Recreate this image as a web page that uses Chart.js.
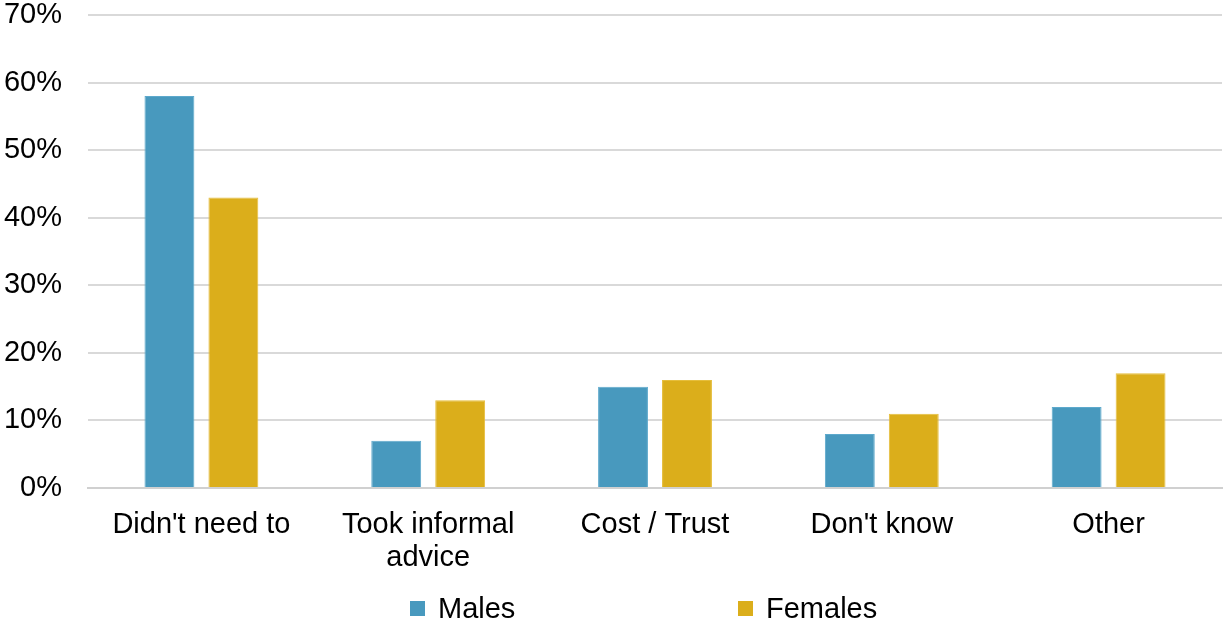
<!DOCTYPE html>
<html>
<head>
<meta charset="utf-8">
<script src="https://cdn.jsdelivr.net/npm/chart.js@4"></script>
<style>
  body { margin: 0; background: #fff; }
  #wrap { position: relative; width: 1225px; height: 623px; }
  #legend { position: absolute; top: 592px; left: 0; width: 1225px; height: 32px;
    font-family: "Liberation Sans", Arial, sans-serif; font-size: 29px; color: #000; }
  .item { position: absolute; top: 0; line-height: 32px; }
  .box { display: inline-block; width: 15px; height: 15px; margin-right: 13px; vertical-align: 2px; }
</style>
</head>
<body>
<div id="wrap">
  <canvas id="myChart" width="1225" height="623"></canvas>
  <div id="legend">
    <span class="item" style="left:410px"><span class="box" style="background:#4899BE"></span>Males</span>
    <span class="item" style="left:738px"><span class="box" style="background:#DBAE1B"></span>Females</span>
  </div>
</div>
<script>
var categories = [["Didn't need to"], ["Took informal", "advice"], ["Cost / Trust"], ["Don't know"], ["Other"]];
var males = [58, 7, 15, 8, 12];
var females = [43, 13, 16, 11, 17];
var seriesNames = ["Males", "Females"];

const ctx = document.getElementById("myChart").getContext("2d");
new Chart(ctx, {
  type: "bar",
  data: {
    labels: categories,
    datasets: [
      {
        label: seriesNames[0],
        data: males,
        backgroundColor: "#4899BE",
        borderColor: "#5DA9CC",
        borderWidth: 1,
        categoryPercentage: 0.564,
        barPercentage: 0.78,
      },
      {
        label: seriesNames[1],
        data: females,
        backgroundColor: "#DBAE1B",
        borderColor: "#E6BE3C",
        borderWidth: 1,
        categoryPercentage: 0.564,
        barPercentage: 0.78,
      },
    ],
  },
  options: {
    responsive: false,
    animation: false,
    layout: { padding: { top: 15, right: 3, bottom: 0, left: 0 } },
    plugins: {
      legend: { display: false },
      tooltip: { enabled: false },
    },
    scales: {
      x: {
        grid: { display: false },
        border: { display: true, color: "#D0D0D0", width: 2 },
        ticks: {
          color: "#000",
          padding: 12,
          maxRotation: 0,
          font: { family: "Liberation Sans", size: 29, lineHeight: 1.14 },
        },
        afterFit: function (scale) {
          scale.height = 135;
          scale.paddingLeft = 0;
          scale.paddingRight = 0;
        },
      },
      y: {
        min: 0,
        max: 70,
        grid: { color: "#D9D9D9", lineWidth: 2, drawTicks: false },
        border: { display: false },
        ticks: {
          stepSize: 10,
          color: "#000",
          padding: 26,
          font: { family: "Liberation Sans", size: 29 },
          callback: function (v) { return v + "%"; },
        },
        afterFit: function (scale) {
          scale.width = 88;
          scale.paddingTop = 0;
          scale.paddingBottom = 0;
        },
      },
    },
  },
});
</script>
</body>
</html>
